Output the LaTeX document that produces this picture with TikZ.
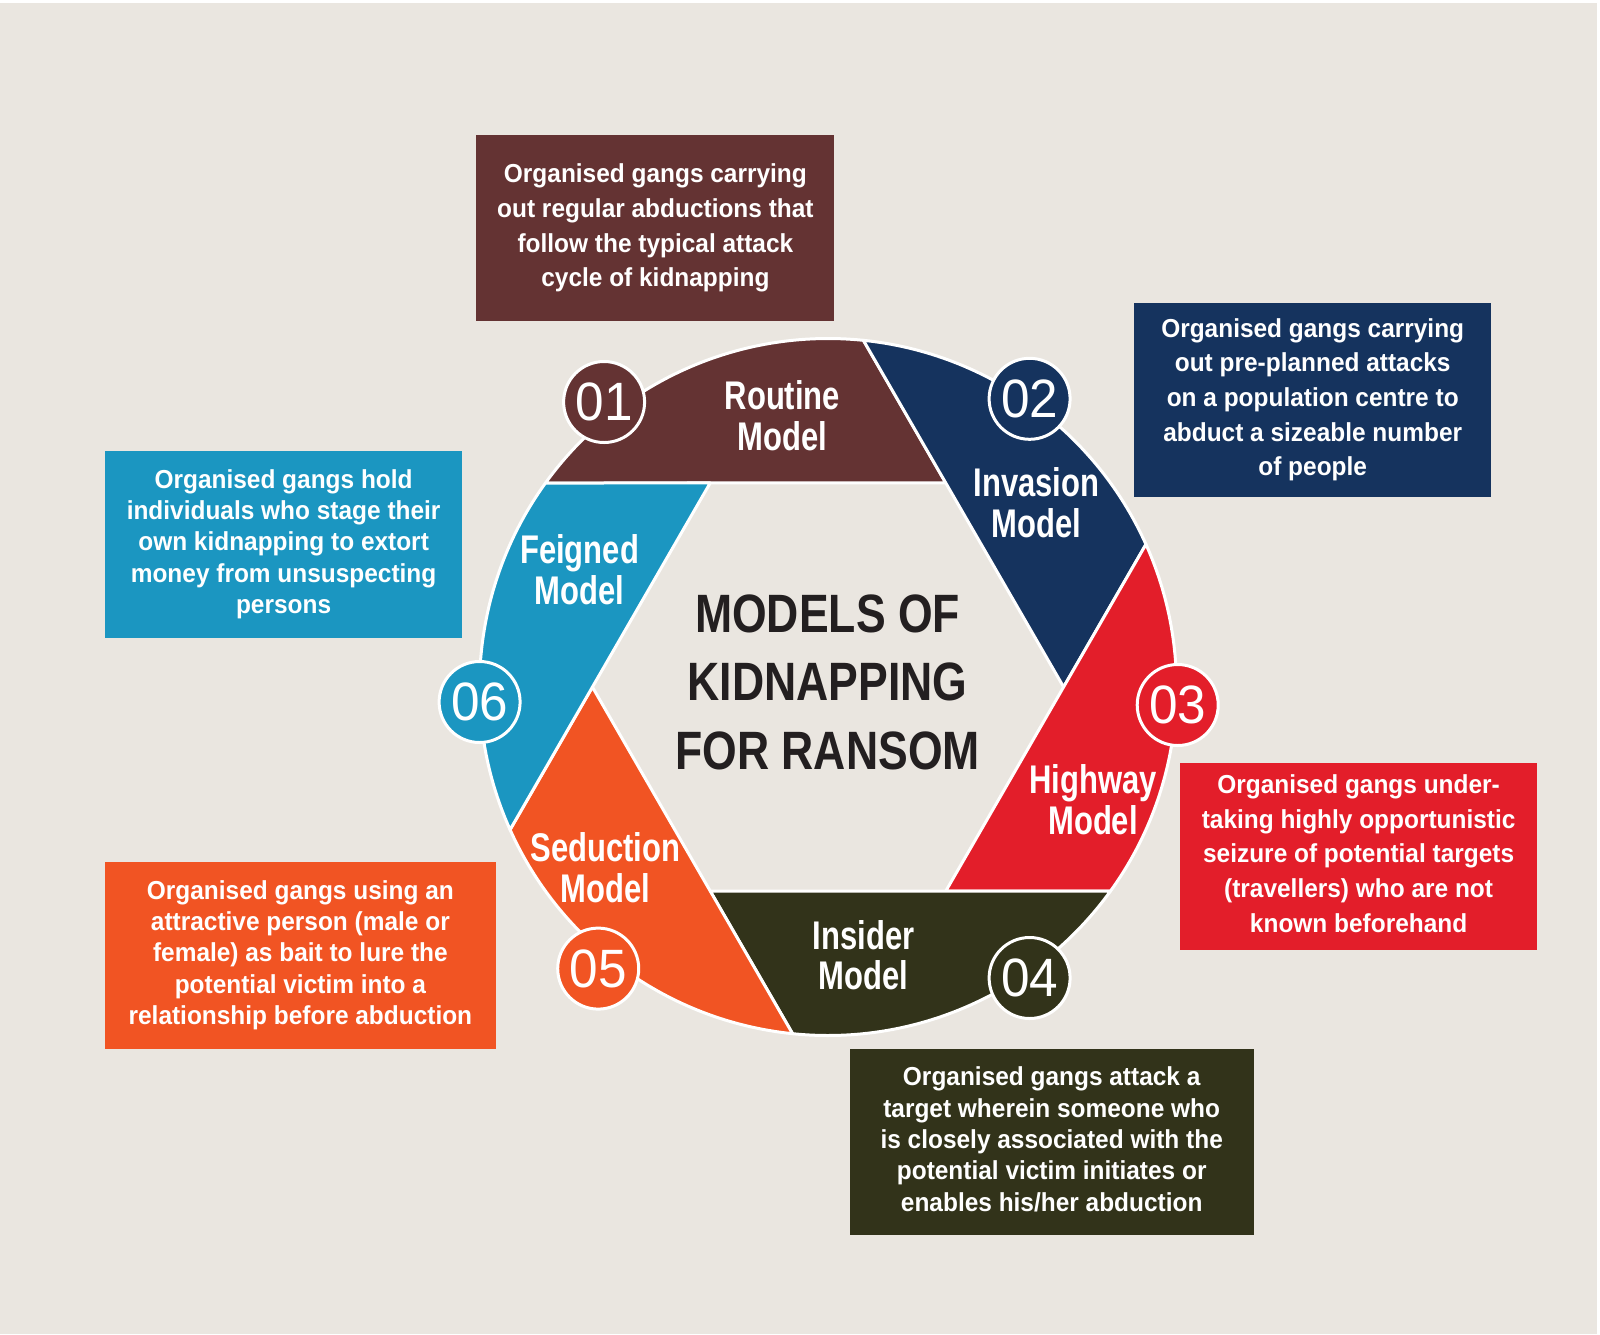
\documentclass[tikz,border=0pt]{standalone}
\usepackage{fontspec}
\setmainfont{Liberation Sans}
\newfontfamily\boxfont{Liberation Sans}[FakeStretch=0.94]
\newfontfamily\lblfont{Liberation Sans}[FakeStretch=0.775]
\newfontfamily\ttlfont{Liberation Sans}[FakeStretch=0.825]
\newfontfamily\numfont{Liberation Sans}[FakeStretch=0.95]
\definecolor{bgc}{HTML}{EAE6E0}
\definecolor{cRoutine}{HTML}{643333}
\definecolor{cInvasion}{HTML}{15335E}
\definecolor{cHighway}{HTML}{E31E2A}
\definecolor{cInsider}{HTML}{32331A}
\definecolor{cSeduction}{HTML}{F15423}
\definecolor{cFeigned}{HTML}{1B96C1}
\definecolor{cTitle}{HTML}{231F20}
\begin{document}
\begin{tikzpicture}[x=0.5pt, y=-0.5pt,
  seg/.style={draw=white, line width=1.5pt, line join=round},
  numc/.style={circle, draw=white, line width=1.5pt, minimum size=40.5pt, inner sep=0pt, text=white, font=\numfont\fontsize{27}{27}\selectfont},
  lbl/.style={text=white, align=center, inner sep=0pt, font=\lblfont\bfseries\fontsize{20}{20.4}\selectfont},
  ttl/.style={text=cTitle, align=center, inner sep=0pt, font=\ttlfont\bfseries\fontsize{27}{34.2}\selectfont},
  descbox/.style={rectangle, inner sep=0pt, text=white, align=center, font=\boxfont\bfseries\fontsize{13}{17.35}\selectfont},
  tightbox/.style={descbox, font=\boxfont\bfseries\fontsize{13}{15.7}\selectfont}
]
\useasboundingbox (0,0) rectangle (1600,1334);
\fill[bgc] (0,0) rectangle (1600,1334);
\fill[white] (0,0) rectangle (1600,3);
\fill[white] (1597,0) rectangle (1600,1334);

% ring segments
\begin{scope}[shift={(828,687)}, yscale=-1]
\filldraw[seg, fill=cRoutine] (144.17:348.5) -- (60:235.6) -- (84.17:348.5) arc[start angle=84.17, end angle=144.17, radius=348.5] -- cycle;
\filldraw[seg, fill=cInvasion] (84.17:348.5) -- (0:235.6) -- (24.17:348.5) arc[start angle=24.17, end angle=84.17, radius=348.5] -- cycle;
\filldraw[seg, fill=cHighway] (24.17:348.5) -- (-60:235.6) -- (-35.83:348.5) arc[start angle=-35.83, end angle=24.17, radius=348.5] -- cycle;
\filldraw[seg, fill=cInsider] (-35.83:348.5) -- (-120:235.6) -- (-95.83:348.5) arc[start angle=-95.83, end angle=-35.83, radius=348.5] -- cycle;
\filldraw[seg, fill=cSeduction] (-95.83:348.5) -- (-180:235.6) -- (-155.83:348.5) arc[start angle=-155.83, end angle=-95.83, radius=348.5] -- cycle;
\filldraw[seg, fill=cFeigned] (-155.83:348.5) -- (-240:235.6) -- (-215.83:348.5) arc[start angle=-215.83, end angle=-155.83, radius=348.5] -- cycle;
\end{scope}

% segment labels
\node[lbl] (lRoutine) at (782.4,415.4) {Routine\\Model};
\node[lbl] (lInvasion) at (1036.5,502.5) {Invasion\\Model};
\node[lbl] (lHighway) at (1093,800) {Highway\\Model};
\node[lbl] (lInsider) at (863.5,955.2) {Insider\\Model};
\node[lbl] (lSeduction) at (605.4,868) {Seduction\\Model};
\node[lbl] (lFeigned) at (579.6,569.6) {Feigned\\Model};

% title
\node[ttl] (title) at (827.6,682.3) {MODELS OF\\KIDNAPPING\\FOR RANSOM};

% number circles
\node[numc, fill=cRoutine] (n1) at (604.1,402) {01};
\node[numc, fill=cInvasion] (n2) at (1029.6,398.8) {02};
\node[numc, fill=cHighway] (n3) at (1177.7,705) {03};
\node[numc, fill=cInsider] (n4) at (1029.6,978) {04};
\node[numc, fill=cSeduction] (n5) at (598.2,968.6) {05};
\node[numc, fill=cFeigned] (n6) at (479.6,702) {06};

% description boxes
\node[descbox, fill=cRoutine, minimum width=179pt, minimum height=93.35pt] (b1) at (655.4,228)
  {Organised gangs carrying\\out regular abductions that\\follow the typical attack\\cycle of kidnapping};
\node[descbox, fill=cInvasion, minimum width=178.5pt, minimum height=96.9pt] (b2) at (1312.7,399.8)
  {Organised gangs carrying\\out pre-planned attacks\\on a population centre to\\abduct a sizeable number\\of people};
\node[descbox, fill=cHighway, minimum width=178.5pt, minimum height=93.3pt] (b3) at (1358.6,856.3)
  {Organised gangs under-\\taking highly opportunistic\\seizure of potential targets\\(travellers) who are not\\known beforehand\vphantom{g}};
\node[tightbox, fill=cInsider, minimum width=202pt, minimum height=93.3pt] (b4) at (1051.7,1141.9)
  {Organised gangs attack a\\target wherein someone who\\is closely associated with the\\potential victim initiates or\\enables his/her abduction\vphantom{g}};
\node[tightbox, fill=cSeduction, minimum width=195.3pt, minimum height=93.35pt] (b5) at (300.4,955.25)
  {Organised gangs using an\\attractive person (male or\\female) as bait to lure the\\potential victim into a\\relationship before abduction};
\node[tightbox, fill=cFeigned, minimum width=178.5pt, minimum height=93.35pt] (b6) at (283.6,544.2)
  {Organised gangs hold\\individuals who stage their\\own kidnapping to extort\\money from unsuspecting\\persons};
\end{tikzpicture}
\end{document}
